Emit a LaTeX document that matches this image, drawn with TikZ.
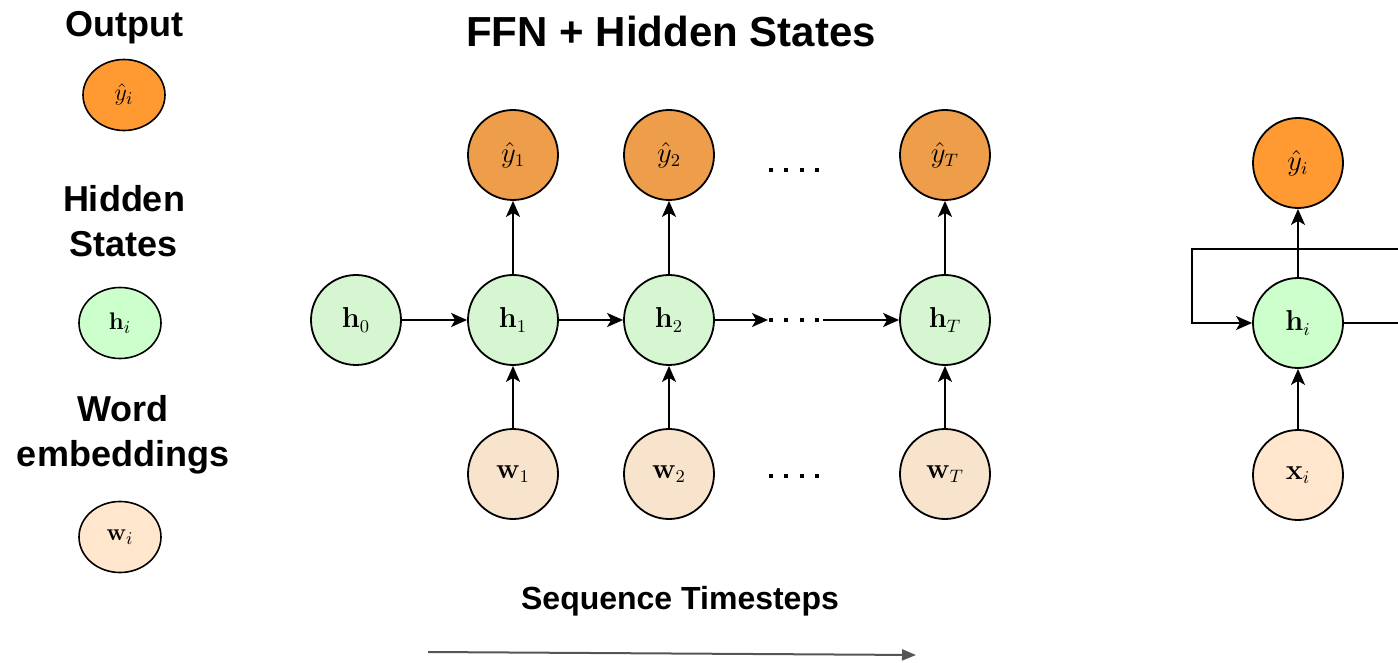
\documentclass[tikz,border=0pt]{standalone}
\usepackage[no-math]{fontspec}
\newfontfamily\lsans{Liberation Sans}
\usetikzlibrary{arrows.meta,shapes.geometric}
\definecolor{outA}{HTML}{EE9E4A}
\definecolor{outB}{HTML}{FF9A33}
\definecolor{hidA}{HTML}{D5F6D0}
\definecolor{hidB}{HTML}{CCFFCC}
\definecolor{embA}{HTML}{F8E4CC}
\definecolor{embB}{HTML}{FFE6CC}
\definecolor{tsgray}{HTML}{555555}
\begin{document}
\begin{tikzpicture}[x=0.5pt,y=-0.5pt,
  unitcirc/.style={circle,draw,line width=0.9pt,minimum size=45pt,inner sep=0pt,font=\fontsize{13.5}{16}\selectfont},
  legell/.style={ellipse,draw,line width=0.8pt,minimum width=41pt,minimum height=35.5pt,inner sep=0pt,font=\fontsize{13}{15}\selectfont},
  conn/.style={line width=0.9pt,-{Stealth[length=8pt,width=7pt,inset=2pt]}},
  heading/.style={font=\lsans\bfseries\fontsize{18}{22.5}\selectfont,align=center},
  dotsq/.style={fill=black},
]
\useasboundingbox (0,0) rectangle (1398,663);
\clip (0,0) rectangle (1398,663);

% legend
\node[heading,anchor=base] (lout) at (124,37) {Output};
\node[legell,fill=outB] (ly) at (124,95) {$\hat{y}_i$};
\node[heading] (lhid) at (124,221) {Hidden\\States};
\node[legell,fill=hidB] (lh) at (120,323) {$\mathbf{h}_i$};
\node[heading] (lemb) at (123,435) {Word\\embeddings};
\node[legell,fill=embB] (lw) at (120,537) {$\mathbf{w}_i$};

% title
\node[font=\lsans\bfseries\fontsize{21}{25}\selectfont,anchor=base] (title) at (671,47) {FFN + Hidden States};

% unrolled network
\node[unitcirc,fill=hidA] (h0) at (356,320) {$\mathbf{h}_0$};
\node[unitcirc,fill=hidA] (h1) at (513,320) {$\mathbf{h}_1$};
\node[unitcirc,fill=hidA] (h2) at (669,320) {$\mathbf{h}_2$};
\node[unitcirc,fill=hidA] (hT) at (945,320) {$\mathbf{h}_T$};
\node[unitcirc,fill=outA] (y1) at (513,155) {$\hat{y}_1$};
\node[unitcirc,fill=outA] (y2) at (669,155) {$\hat{y}_2$};
\node[unitcirc,fill=outA] (yT) at (945,155) {$\hat{y}_T$};
\node[unitcirc,fill=embA] (w1) at (513,474) {$\mathbf{w}_1$};
\node[unitcirc,fill=embA] (w2) at (669,474) {$\mathbf{w}_2$};
\node[unitcirc,fill=embA] (wT) at (945,474) {$\mathbf{w}_T$};

\foreach \dx in {771,786,802,817}{
  \fill[dotsq] (\dx-2.2,170-2.2) rectangle ++(4.4,4.4);
  \fill[dotsq] (\dx-2.2,320-2.2) rectangle ++(4.4,4.4);
  \fill[dotsq] (\dx-2.2,476-2.2) rectangle ++(4.4,4.4);
}
\coordinate (dmL) at (768,320);
\coordinate (dmR) at (823,320);

\draw[conn] (h0) -- (h1);
\draw[conn] (h1) -- (h2);
\draw[conn] (h2) -- (dmL);
\draw[conn] (dmR) -- (hT);
\foreach \c in {1,2,T}{
  \draw[conn] (w\c) -- (h\c);
  \draw[conn] (h\c) -- (y\c);
}

% folded network
\node[unitcirc,fill=outB] (yi) at (1298,163) {$\hat{y}_i$};
\node[unitcirc,fill=hidB] (hi) at (1298,323) {$\mathbf{h}_i$};
\node[unitcirc,fill=embB] (xi) at (1298,475) {$\mathbf{x}_i$};
\draw[conn] (xi) -- (hi);
\draw[conn] (hi) -- (yi);
\coordinate (loopR) at (1430,249);
\coordinate (loopL) at (1192,249);
\draw[conn] (hi.east) -- (loopR |- hi.east) -- (loopR) -- (loopL) -- (loopL |- hi.west) -- (hi.west);

% timesteps
\node[font=\lsans\bfseries\fontsize{16}{19}\selectfont,anchor=base] (seq) at (680,609) {Sequence Timesteps};
\coordinate (tsA) at (428,652);
\coordinate (tsB) at (916,655);
\draw[tsgray,line width=1pt,-{Triangle[length=7pt,width=5.5pt]}] (tsA) -- (tsB);
\end{tikzpicture}
\end{document}
